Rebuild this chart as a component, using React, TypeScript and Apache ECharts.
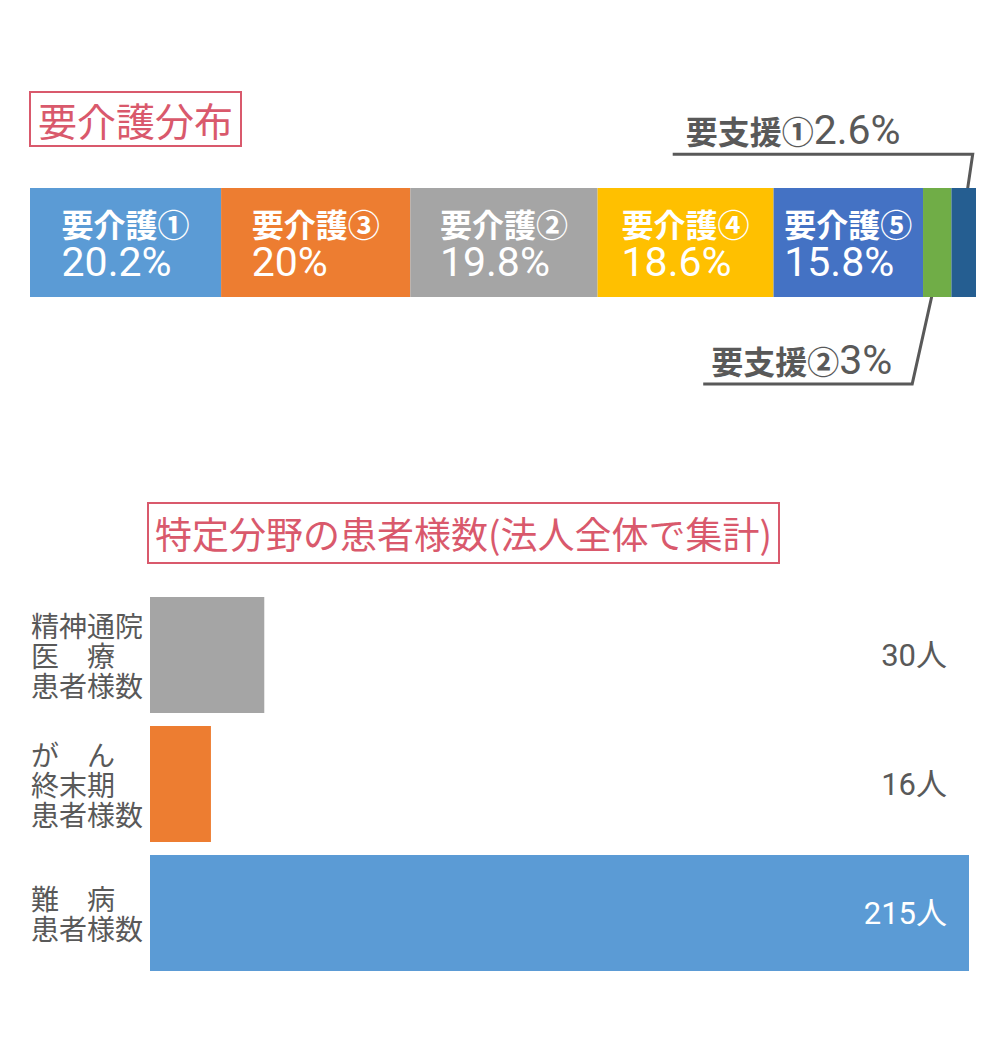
import React, { useEffect, useRef } from "react";
import * as echarts from "echarts";

// ---- data ----
const careLevels = ["要介護①", "要介護③", "要介護②", "要介護④", "要介護⑤", "要支援②", "要支援①"];
const careShares = [20.2, 20, 19.8, 18.6, 15.8, 3, 2.6];
const careColors = ["#5B9BD5", "#ED7D31", "#A5A5A5", "#FFC000", "#4472C4", "#70AD47", "#255E91"];
const insideLabelCount = 5;
const careCategory = ["要介護分布"];

const patientCategories = ["精神通院\n医　療\n患者様数", "が　ん\n終末期\n患者様数", "難　病\n患者様数"];
const patientCounts = [30, 16, 215];
const patientColors = ["#A5A5A5", "#ED7D31", "#5B9BD5"];
const countUnit = "人";

const titleTop = "要介護分布";
const titleBottom = "特定分野の患者様数(法人全体で集計)";

// ---- styles ----
const JP = "'Noto Sans CJK JP', sans-serif";
const NUM = "Roboto, 'Noto Sans CJK JP', sans-serif";
const GRAY = "#595959";
const RED = "#D9596C";
const TOP_GRID = { left: 30, right: 32, top: 188, height: 109 };

export default function App() {
  const ref = useRef<HTMLDivElement>(null);

  useEffect(() => {
    const chart = echarts.init(ref.current!, null, { renderer: "svg" });
    const maxCount = Math.max(...patientCounts);

    const topSeries = careLevels.map((name, i) => ({
      type: "bar",
      name,
      stack: "care",
      xAxisIndex: 0,
      yAxisIndex: 0,
      barCategoryGap: "0%",
      data: [careShares[i]],
      itemStyle: { color: careColors[i] },
      silent: true,
      label:
        i < insideLabelCount
          ? {
              show: true,
              position: "inside",
              formatter: `{n|${name}}\n{v|${careShares[i]}%}`,
              rich: {
                n: { fontSize: 32, fontWeight: "bold", color: "#fff", fontFamily: JP, align: "left", lineHeight: 38 },
                v: { fontSize: 41, color: "#fff", fontFamily: NUM, align: "left", lineHeight: 40 },
              },
            }
          : { show: false },
    }));

    const option: any = {
      animation: false,
      backgroundColor: "#fff",
      title: [
        {
          text: titleTop,
          left: 30,
          top: 92,
          padding: [6, 8],
          borderColor: RED,
          borderWidth: 2,
          textStyle: { color: RED, fontSize: 39, fontFamily: JP, fontWeight: "normal", lineHeight: 42 },
        },
        {
          text: titleBottom,
          left: 148,
          top: 503,
          padding: [8, 7],
          borderColor: RED,
          borderWidth: 2,
          textStyle: { color: RED, fontSize: 37, fontFamily: JP, fontWeight: "normal", lineHeight: 44 },
        },
      ],
      grid: [
        { ...TOP_GRID },
        { left: 150, right: 39, top: 590.5, height: 387 },
      ],
      xAxis: [
        { gridIndex: 0, type: "value", min: 0, max: 100, show: false },
        { gridIndex: 1, type: "value", min: 0, max: "dataMax", show: false },
      ],
      yAxis: [
        { gridIndex: 0, type: "category", data: careCategory, show: false },
        {
          gridIndex: 1,
          type: "category",
          data: patientCategories,
          inverse: true,
          axisLine: { show: false },
          axisTick: { show: false },
          axisLabel: {
            align: "left",
            margin: 119,
            fontSize: 28,
            lineHeight: 30,
            color: GRAY,
            fontFamily: JP,
          },
        },
      ],
      series: [
        ...topSeries,
        {
          type: "bar",
          xAxisIndex: 1,
          yAxisIndex: 1,
          barCategoryGap: "10%",
          barGap: "-100%",
          silent: true,
          data: patientCounts.map((v, i) => ({ value: v, itemStyle: { color: patientColors[i] } })),
          z: 2,
        },
        {
          type: "bar",
          xAxisIndex: 1,
          yAxisIndex: 1,
          barCategoryGap: "10%",
          barGap: "-100%",
          silent: true,
          itemStyle: { color: "rgba(0,0,0,0)" },
          z: 3,
          data: patientCounts.map((v) => ({
            value: maxCount,
            label: { color: v / maxCount > 0.8 ? "#fff" : GRAY },
          })),
          label: {
            show: true,
            position: "insideRight",
            distance: 22,
            fontSize: 31,
            fontFamily: NUM,
            formatter: (p: any) => `${patientCounts[p.dataIndex]}${countUnit}`,
          },
        },
      ],
    };

    chart.setOption(option);

    // callouts for the thin segments, anchored at their pixel positions
    const starts: number[] = [];
    let acc = 0;
    careShares.forEach((v) => {
      starts.push(acc);
      acc += v;
    });
    const callouts = [
      { index: 6, frac: -0.25, elbowDx: 9, elbowDy: -61, lineLen: 300, textDx: 13, textDy: -24 },
      { index: 5, frac: 0.27, elbowDx: -25, elbowDy: 112, lineLen: 209, textDx: 8, textDy: -24 },
    ];
    const graphics: any[] = [];
    callouts.forEach((c) => {
      const [x, yc] = chart.convertToPixel({ gridIndex: 0 } as any, [
        starts[c.index] + careShares[c.index] / 2,
        careCategory[0],
      ] as any) as unknown as number[];
      const ey0 = yc + c.frac * TOP_GRID.height;
      const ex = x + c.elbowDx;
      const ey = ey0 + c.elbowDy;
      graphics.push({
        type: "polyline",
        silent: true,
        shape: { points: [[ex - c.lineLen, ey], [ex, ey], [x, ey0]] },
        style: { stroke: GRAY, lineWidth: 3, fill: "none" },
      });
      graphics.push({
        type: "text",
        silent: true,
        x: ex - c.lineLen + c.textDx,
        y: ey + c.textDy,
        style: {
          text: `{n|${careLevels[c.index]}}{v|${careShares[c.index]}%}`,
          verticalAlign: "middle",
          align: "left",
          rich: {
            n: { fontSize: 32, fontFamily: JP, fill: GRAY, fontWeight: "bold" },
            v: { fontSize: 41, fontFamily: NUM, fill: GRAY },
          },
        },
      });
    });
    chart.setOption({ graphic: graphics });

    return () => chart.dispose();
  }, []);

  return (
    <div
      ref={ref}
      style={{ position: "fixed", left: 0, top: 0, width: 1008, height: 1064, background: "#fff" }}
    />
  );
}
